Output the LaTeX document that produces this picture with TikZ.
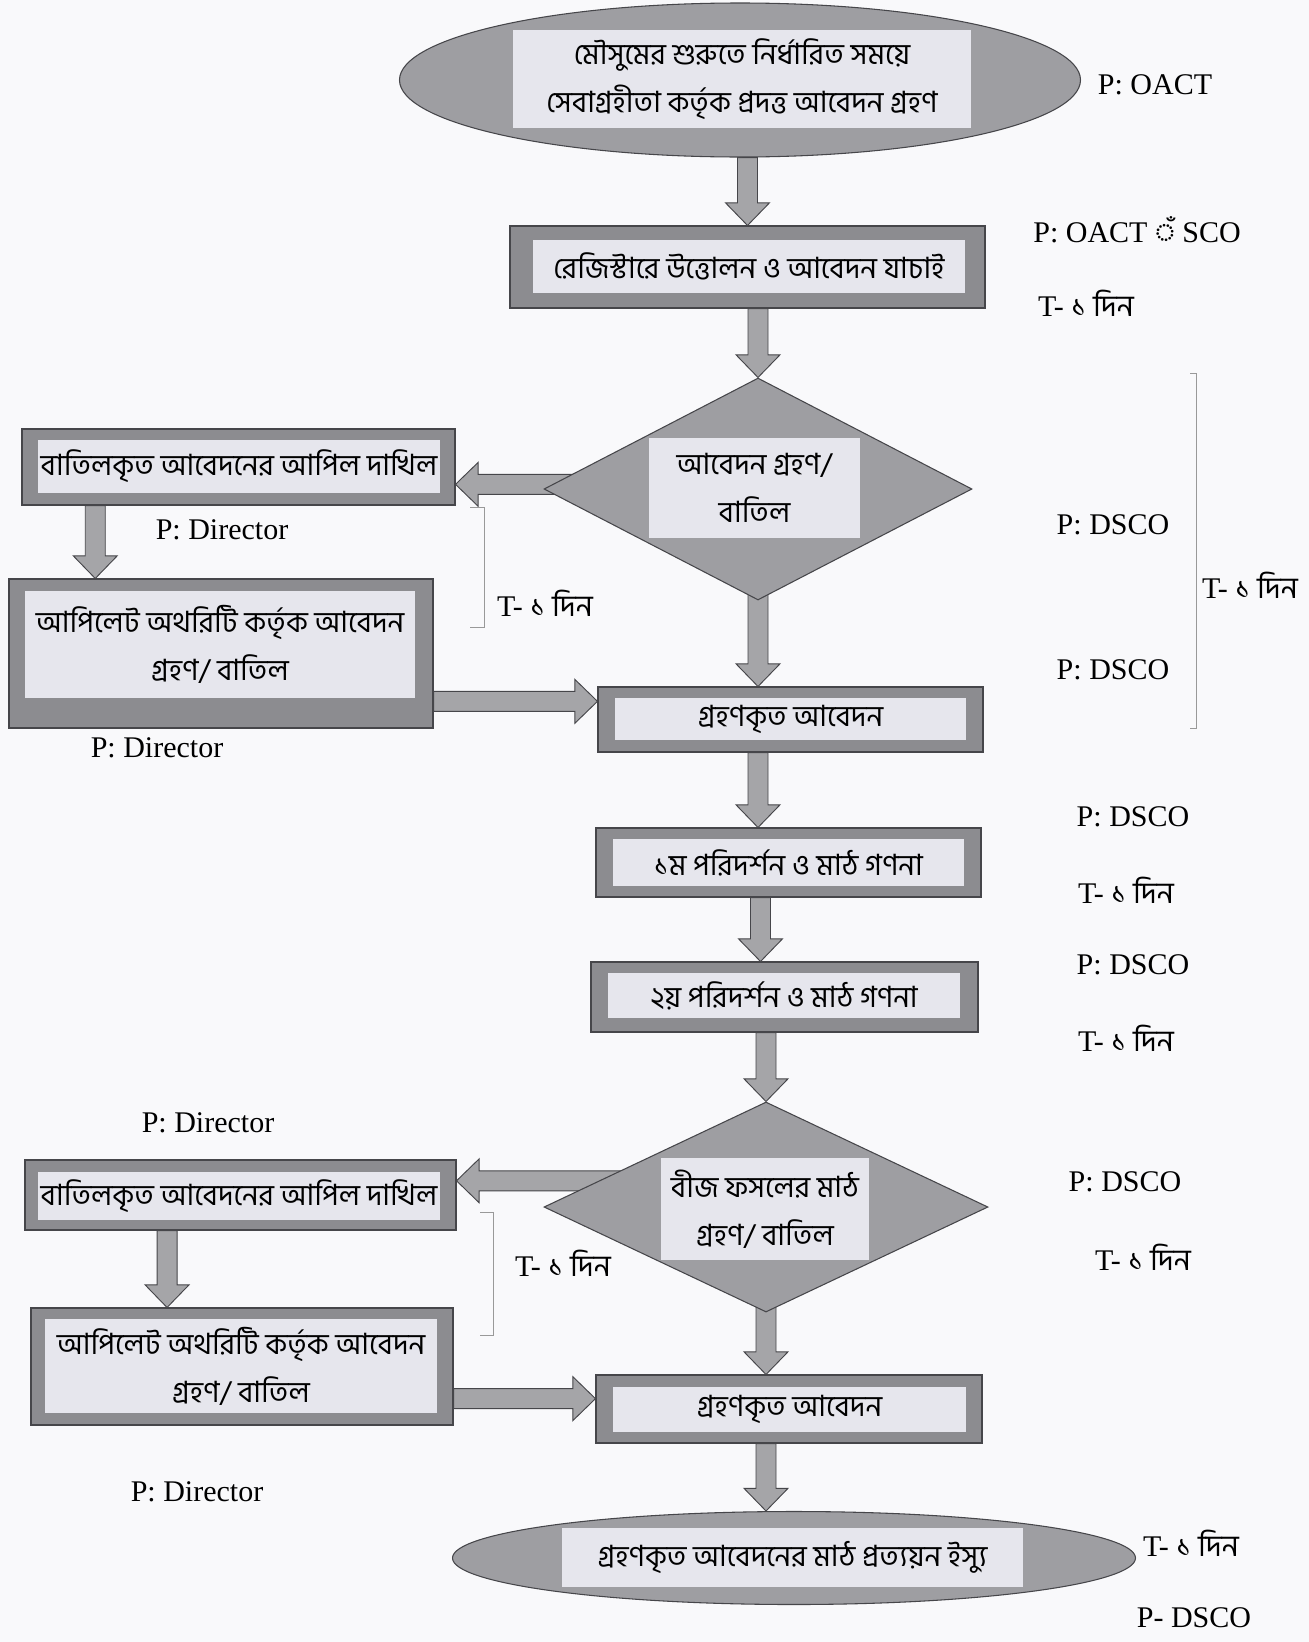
\documentclass[tikz,border=0pt]{standalone}
\usepackage{fontspec}
\setmainfont{Liberation Serif}
\newfontfamily\bn[Script=Bengali]{Hind Siliguri}
\usepackage{tikz}
\usetikzlibrary{shapes.geometric, calc}
\pgfdeclarelayer{background}
\pgfdeclarelayer{paperlayer}
\pgfsetlayers{paperlayer,background,main}

\definecolor{paper}{RGB}{249,249,251}
\definecolor{framegray}{RGB}{140,140,144}
\definecolor{innergray}{RGB}{230,230,237}
\definecolor{arrowgray}{RGB}{165,165,168}
\definecolor{shapegray}{RGB}{158,158,162}
\definecolor{edgegray}{RGB}{70,70,74}

\tikzset{
  boxsize/.style 2 args={minimum width=#1*0.75pt, minimum height=#2*0.75pt},
  frame/.style={draw=edgegray, fill=framegray, line width=0.8pt, rectangle, inner sep=0pt},
  inner/.style={fill=innergray, rectangle, inner sep=0pt, align=center, font=\bntext},
  oval/.style={draw=edgegray, fill=shapegray, line width=0.8pt, ellipse, inner sep=0pt},
  choice/.style={draw=edgegray, fill=shapegray, line width=0.8pt, diamond, inner sep=0pt},
  blockarrow/.style={draw=edgegray, fill=arrowgray, line width=0.7pt, line join=miter},
  note/.style={font=\notetext, inner sep=0pt},
  brace/.style={draw=gray!80, line width=0.5pt},
}
\newcommand{\bntext}{\bn\fontsize{22}{36}\selectfont}
\newcommand{\notetext}{\fontsize{22.5}{27}\selectfont}
\def\shaftw{7.5pt}
\def\headw{16.5pt}
\def\headl{17pt}
% block arrows: tip at the second point (y runs downwards here)
\newcommand{\arrowdown}[2]{%
  \draw[blockarrow] let \p1=(#1), \p2=(#2) in
    (\x1-\shaftw,\y1) -- (\x1+\shaftw,\y1) -- (\x1+\shaftw,\y2-\headl) -- (\x1+\headw,\y2-\headl)
    -- (\x1,\y2) -- (\x1-\headw,\y2-\headl) -- (\x1-\shaftw,\y2-\headl) -- cycle;}
\newcommand{\arrowleft}[2]{%
  \draw[blockarrow] let \p1=(#1), \p2=(#2) in
    (\x1,\y2-\shaftw) -- (\x1,\y2+\shaftw) -- (\x2+\headl,\y2+\shaftw) -- (\x2+\headl,\y2+\headw)
    -- (\x2,\y2) -- (\x2+\headl,\y2-\headw) -- (\x2+\headl,\y2-\shaftw) -- cycle;}
\newcommand{\arrowright}[2]{%
  \draw[blockarrow] let \p1=(#1), \p2=(#2) in
    (\x1,\y2-\shaftw) -- (\x1,\y2+\shaftw) -- (\x2-\headl,\y2+\shaftw) -- (\x2-\headl,\y2+\headw)
    -- (\x2,\y2) -- (\x2-\headl,\y2-\headw) -- (\x2-\headl,\y2-\shaftw) -- cycle;}

\begin{document}
\begin{tikzpicture}[x=0.75pt,y=0.75pt,yscale=-1,xscale=1]
    %set diagram left start at 0, and has height of 1642
    \begin{pgfonlayer}{paperlayer}
    \fill[paper] (0,0) rectangle (1309,1642);
    \end{pgfonlayer}
    \useasboundingbox (0,0) rectangle (1309,1642);

    % Start
    \node[oval, boxsize={681}{154}] (start) at (740,80) {};
    \node[inner, boxsize={458}{98}] (start-in) at (742,79)
      {মৌসুমের শুরুতে নির্ধারিত সময়ে\\সেবাগ্রহীতা কর্তৃক প্রদত্ত আবেদন গ্রহণ};
    % Register
    \node[frame, boxsize={475}{82}] (reg) at (747.5,267) {};
    \node[inner, boxsize={432}{53}] (reg-in) at (749,266.5) {রেজিস্টারে উত্তোলন ও আবেদন যাচাই};
    % Decision 1
    \node[choice, boxsize={428}{222}] (dec1) at (758,489) {};
    \node[inner, boxsize={211}{100}] (dec1-in) at (754.5,488) {আবেদন গ্রহণ/\\বাতিল};
    % Appeal 1
    \node[frame, boxsize={433}{76}] (appeal1) at (238.5,467) {};
    \node[inner, boxsize={402}{53}] (appeal1-in) at (239,466.5) {বাতিলকৃত আবেদনের আপিল দাখিল};
    \node[frame, boxsize={424}{149}] (auth1) at (221,653.5) {};
    \node[inner, boxsize={390}{107}] (auth1-in) at (220,644.5) {আপিলেট অথরিটি কর্তৃক আবেদন\\গ্রহণ/ বাতিল};
    % Accepted 1
    \node[frame, boxsize={385}{65}] (acc1) at (790.5,719.5) {};
    \node[inner, boxsize={351}{42}] (acc1-in) at (790.5,719) {গ্রহণকৃত আবেদন};
    % Inspections
    \node[frame, boxsize={385}{69}] (insp1) at (788.5,862.5) {};
    \node[inner, boxsize={351}{47}] (insp1-in) at (788.5,862.5) {১ম পরিদর্শন ও মাঠ গণনা};
    \node[frame, boxsize={387}{70}] (insp2) at (784.5,997) {};
    \node[inner, boxsize={352}{45}] (insp2-in) at (784,995.5) {২য় পরিদর্শন ও মাঠ গণনা};
    % Decision 2
    \node[choice, boxsize={444}{210}] (dec2) at (766,1207) {};
    \node[inner, boxsize={208}{102}] (dec2-in) at (765,1209) {বীজ ফসলের মাঠ\\গ্রহণ/ বাতিল};
    % Appeal 2
    \node[frame, boxsize={431}{70}] (appeal2) at (240.5,1195) {};
    \node[inner, boxsize={402}{48}] (appeal2-in) at (239,1196) {বাতিলকৃত আবেদনের আপিল দাখিল};
    \node[frame, boxsize={422}{117}] (auth2) at (242,1366.5) {};
    \node[inner, boxsize={392}{94}] (auth2-in) at (241,1366) {আপিলেট অথরিটি কর্তৃক আবেদন\\গ্রহণ/ বাতিল};
    % Accepted 2
    \node[frame, boxsize={386}{68}] (acc2) at (789,1409) {};
    \node[inner, boxsize={353}{45}] (acc2-in) at (789.5,1409.5) {গ্রহণকৃত আবেদন};
    % End
    \node[oval, boxsize={683}{93}] (end) at (794,1558) {};
    \node[inner, boxsize={461}{59}] (end-in) at (792.5,1557.5) {গ্রহণকৃত আবেদনের মাঠ প্রত্যয়ন ইস্যু};

    % Block Arrows
    \begin{pgfonlayer}{background}
    \arrowdown{reg.north |- start.south}{reg.north}
    \arrowdown{dec1.north |- reg.south}{dec1.north}
    \arrowdown{dec1.center}{acc1.north}
    \arrowdown{dec1.south |- acc1.south}{insp1.north}
    \arrowdown{$(insp1.south)+(-28,0)$}{insp2.north}
    \arrowdown{dec2.north |- insp2.south}{dec2.north}
    \arrowdown{dec2.center}{acc2.north}
    \arrowdown{dec2.south |- acc2.south}{end.north}
    \arrowdown{$(appeal1.south west)!0.17!(appeal1.south east)$}{auth1.north}
    \arrowdown{$(appeal2.south west)!0.33!(appeal2.south east)$}{auth2.north}
    \arrowleft{dec1.center}{$(appeal1.east)!0.45!(appeal1.south east)$}
    \arrowleft{dec2.center}{$(appeal2.east)!0.4!(appeal2.north east)$}
    \arrowright{auth1.east}{$(acc1.west)!0.55!(acc1.north west)$}
    \arrowright{auth2.east}{$(acc2.west)!0.3!(acc2.north west)$}
    \end{pgfonlayer}

    % Brackets
    \draw[brace] (1190,373) -- (1196,373) -- (1196,728) -- (1190,728);
    \draw[brace] (470,507) -- (484,507) -- (484,627) -- (470,627);
    \draw[brace] (480,1212) -- (493,1212) -- (493,1335) -- (480,1335);

    % Text Node
    \node[note] (n-oact) at (1155,85) {P: OACT};
    \node[note] (n-oact-sco) at (1137,230) {P: OACT {\bn ঁ} SCO};
    \node[note] (t-reg) at (1086,303) {T- {\bn ১ দিন}};
    \node[note] (p-dec1) at (1113,525) {P: DSCO};
    \node[note] (p-acc1) at (1113,670) {P: DSCO};
    \node[note] (t-dec1) at (1250,585) {T- {\bn ১ দিন}};
    \node[note] (p-insp1) at (1133,817) {P: DSCO};
    \node[note] (t-insp1) at (1126,890) {T- {\bn ১ দিন}};
    \node[note] (p-insp2) at (1133,965) {P: DSCO};
    \node[note] (t-insp2) at (1126,1038) {T- {\bn ১ দিন}};
    \node[note] (p-dec2) at (1125,1182) {P: DSCO};
    \node[note] (t-dec2) at (1143,1257) {T- {\bn ১ দিন}};
    \node[note] (t-end) at (1191,1543) {T- {\bn ১ দিন}};
    \node[note] (p-end) at (1194,1618) {P- DSCO};
    \node[note] (d-appeal1) at (222,530) {P: Director};
    \node[note] (t-appeal1) at (545,603) {T- {\bn ১ দিন}};
    \node[note] (d-auth1) at (157,748) {P: Director};
    \node[note] (d-appeal2) at (208,1123) {P: Director};
    \node[note] (t-appeal2) at (563,1263) {T- {\bn ১ দিন}};
    \node[note] (d-auth2) at (197,1492) {P: Director};

\end{tikzpicture}
\end{document}
